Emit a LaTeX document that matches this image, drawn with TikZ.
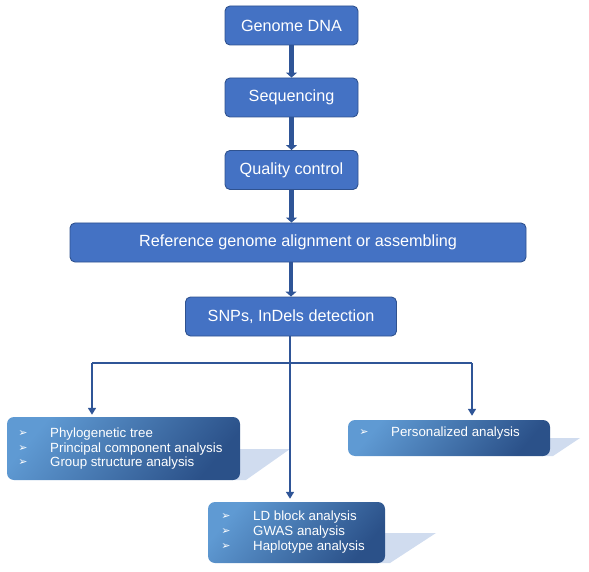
\documentclass[tikz,border=0pt]{standalone}
\usepackage{fontspec}
\setmainfont{Liberation Sans}
\newfontfamily\symfont{DejaVu Sans}
\usetikzlibrary{arrows.meta}
\definecolor{boxblue}{HTML}{4472C4}
\definecolor{edgeblue}{HTML}{2F528F}
\definecolor{linkblue}{HTML}{2F5597}
\definecolor{gradlight}{HTML}{5F9AD3}
\definecolor{graddark}{HTML}{2B5189}
\definecolor{shadowblue}{HTML}{D0DCEF}
\tikzset{
    stepbox/.style={draw=edgeblue, fill=boxblue, line width=0.9pt, rounded corners=5pt,
        minimum height=39pt, inner sep=0pt, text=white, font=\fontsize{16.2}{19}\selectfont},
    listbox/.style={rounded corners=7pt, top color=gradlight, bottom color=graddark,
        shading angle=50, inner sep=0pt},
    flow/.style={draw=linkblue, line width=4.5pt, -{Triangle[width=11pt,length=5pt]}},
    link/.style={draw=linkblue, line width=1.6pt},
    bullet/.style={text=white, font=\symfont\fontsize{11}{12}\selectfont, inner sep=0pt},
    item/.style={text=white, font=\fontsize{13.3}{15}\selectfont, anchor=west, inner sep=0pt}
}
\begin{document}
\begin{tikzpicture}[x=1pt,y=-1pt]
    \useasboundingbox (0,0) rectangle (589,572);

    % Pipeline
    \node[stepbox, minimum width=133pt] (dna) at (291.5,25.5) {Genome DNA};
    \node[stepbox, minimum width=133pt] (seq) at (291.5,97.5) {Sequencing};
    \node[stepbox, minimum width=133pt] (qc) at (291.5,170) {Quality control};
    \node[stepbox, minimum width=456pt] (ref) at (298,242.5) {Reference genome alignment or assembling};
    \node[stepbox, minimum width=211pt] (snp) at (291,316.5) {SNPs, InDels detection};

    \draw[flow] (dna) -- (seq);
    \draw[flow] (seq) -- (qc);
    \draw[flow] (qc) -- (qc |- ref.north);
    \draw[flow] (ref.south -| snp) -- (snp);

    % Analyses
    \fill[shadowblue] (232,449) -- (290,449) -- (246,480) -- (232,480) -- cycle;
    \node[listbox, minimum width=233pt, minimum height=63pt] (phy) at (123.5,448.5) {};
    \foreach \y/\txt in {434/Phylogenetic tree, 449/Principal component analysis, 463/Group structure analysis} {
        \node[bullet] at (23,\y) {➢};
        \node[item] at (50,\y) {\txt};
    }

    \fill[shadowblue] (542,438) -- (580,438) -- (553,456) -- (542,456) -- cycle;
    \node[listbox, minimum width=202pt, minimum height=36pt] (pers) at (449,438) {};
    \node[bullet] at (364,433) {➢};
    \node[item] at (391,433) {Personalized analysis};

    \fill[shadowblue] (377,533) -- (436,533) -- (390,563) -- (377,563) -- cycle;
    \node[listbox, minimum width=177pt, minimum height=61pt] (ld) at (296.5,532.5) {};
    \foreach \y/\txt in {517/LD block analysis, 532/GWAS analysis, 547/Haplotype analysis} {
        \node[bullet] at (226,\y) {➢};
        \node[item] at (253,\y) {\txt};
    }

    % Branches
    \coordinate (hl) at (92,363);
    \coordinate (hr) at (472,363);
    \draw[link] (hl) -- (hr);
    \draw[link, -{Triangle[width=8pt,length=7pt]}, shorten >=2pt] (hl) -- (hl |- phy.north);
    \draw[link, -{Triangle[width=8pt,length=7pt]}, shorten >=4pt] (hr) -- (hr |- pers.north);
    \draw[link, -{Triangle[width=8pt,length=7pt]}, shorten >=3pt] (snp.south -| 290,0) -- (ld.north -| 290,0);
\end{tikzpicture}
\end{document}
